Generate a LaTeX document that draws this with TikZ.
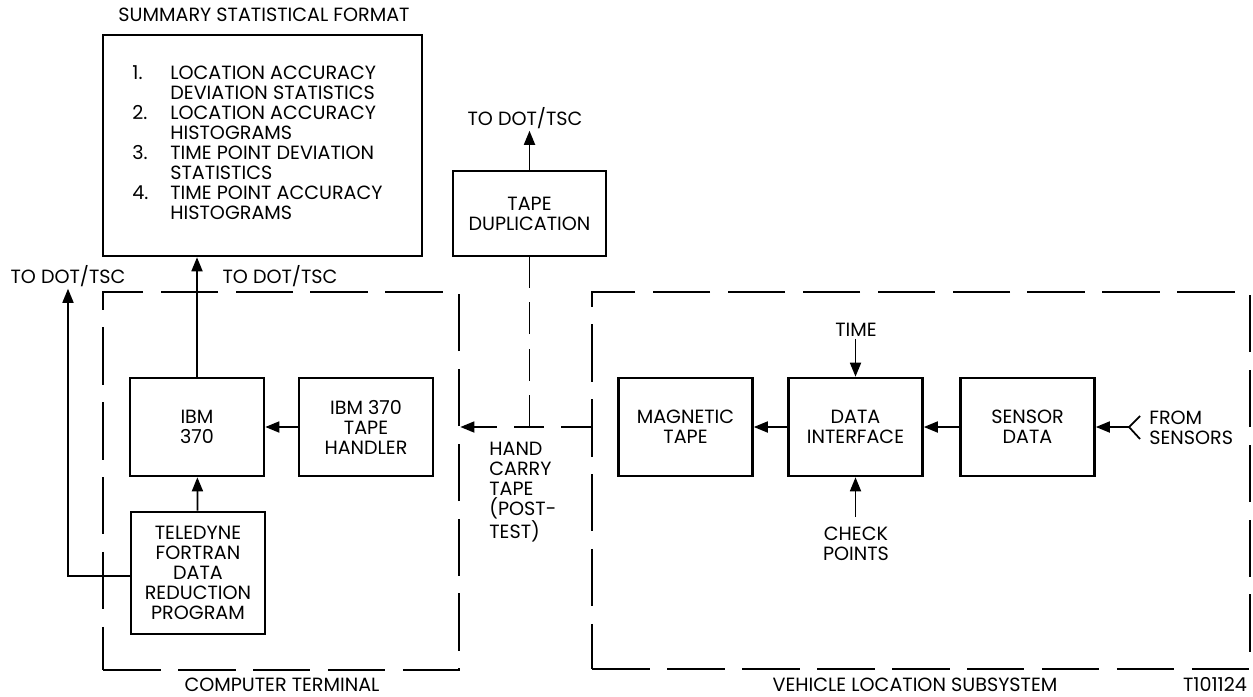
\documentclass[tikz,border=0pt]{standalone}
\usepackage{fontspec}
\setmainfont{Poppins}
\usetikzlibrary{arrows.meta,positioning,calc}

\begin{document}
\begin{tikzpicture}[x=0.02cm,y=-0.02cm,font=\fontsize{10.9}{11.4}\selectfont,
    b/.style={draw,line width=1.5pt,minimum width=2.68cm,minimum height=1.96cm,align=center,inner sep=2pt},
    grp/.style={draw,line width=1.6pt,dash pattern=on 1.15cm off 0.35cm,inner sep=0pt},
    ar/.style={line width=1pt,-{Triangle[length=0.28cm,width=0.22cm]}},
    hc/.style={line width=1pt},
    lbl/.style={align=center,inner sep=1pt}]
\useasboundingbox (0,0) rectangle (1253,696);
% computer terminal
\node[grp,minimum width=7.12cm,minimum height=7.56cm] (ct) at (281,481) {};
\node[b] (ibm) at (197,427) {IBM\\370};
\node[b] (hdl) at (366,427) {IBM 370\\TAPE\\HANDLER};
\node[b,minimum height=2.44cm] (tel) at (198,573) {TELEDYNE\\FORTRAN\\DATA\\REDUCTION\\PROGRAM};
\node[b,minimum width=6.38cm,minimum height=4.42cm] (sum) at (262.5,145.5)
  {\begin{tabular}{@{}p{0.76cm}@{}l@{}}
   1. & LOCATION ACCURACY\\ & DEVIATION STATISTICS\\
   2. & LOCATION ACCURACY\\ & HISTOGRAMS\\
   3. & TIME POINT DEVIATION\\ & STATISTICS\\
   4. & TIME POINT ACCURACY\\ & HISTOGRAMS
   \end{tabular}\hspace*{0.2cm}};
\node[lbl] (sumt) at (264,15) {SUMMARY STATISTICAL FORMAT};
\node[lbl] (dot1) at (68,276) {TO DOT/TSC};
\node[lbl] (dot2) at (280,276) {TO DOT/TSC};
\node[lbl] at (282,685) {COMPUTER TERMINAL};
\draw[ar] (hdl) -- (ibm);
\draw[ar] (tel) -- (ibm);
\draw[ar] (ibm.north) -- (ibm.north |- sum.south);
\draw[ar] ($(tel.west)+(0,3)$) -| (dot1);
% tape duplication and hand carry
\node[b,minimum width=3.06cm,minimum height=1.7cm] (dup) at (529.5,213.5) {TAPE\\DUPLICATION};
\node[lbl] (dot3) at (525,118) {TO DOT/TSC};
\draw[ar] (dup.north) -- (dup.north |- dot3.south);
\node[grp,minimum width=13.16cm,minimum height=7.54cm] (vls) at (921,480.5) {};
\coordinate (hj) at (dup.south |- ibm.center);
\draw[hc,dash pattern=on 0.64cm off 0.29cm] (hj) -- (dup.south);
\draw[ar,dash pattern=on 0.6cm off 0.34cm] (vls.west |- hj) -- (ct.east |- hj);
\node[align=left,anchor=west,inner sep=0pt] (hct) at (489,492) {HAND\\CARRY\\TAPE\\(POST-\\TEST)};
% vehicle location subsystem
\node[b] (mag) at (685.5,427) {MAGNETIC\\TAPE};
\node[b] (dif) at (855.5,427) {DATA\\INTERFACE};
\node[b] (sen) at (1027.5,427) {SENSOR\\DATA};
\draw[ar] (dif) -- (mag);
\draw[ar] (sen) -- (dif);
\node[lbl] (time) at (856,330) {TIME};
\draw[ar] (dif.north |- time.south) -- (dif.north);
\node[lbl] (chk) at (856,544) {CHECK\\POINTS};
\draw[ar] ($(dif.south |- chk.north)+(0,-8)$) -- (dif.south);
\coordinate (fk) at (1129,427);
\coordinate (fk1) at (1140,416);
\coordinate (fk2) at (1140,439);
\draw[ar] (fk) -- (sen);
\draw[hc] (fk1) -- (fk) -- (fk2);
\node[align=left,anchor=west,inner sep=0pt] (frm) at (1149,428) {FROM\\SENSORS};
\node[lbl] at (915,685) {VEHICLE LOCATION SUBSYSTEM};
\node[lbl] at (1215,684) {T101124};
\end{tikzpicture}
\end{document}
